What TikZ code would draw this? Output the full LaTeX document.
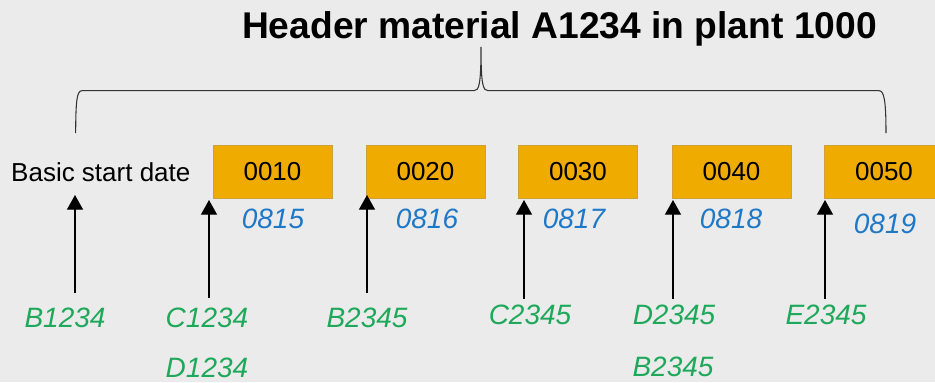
\documentclass[tikz,border=0pt]{standalone}
\usepackage{fontspec}
\setmainfont{Liberation Sans}
\usetikzlibrary{arrows.meta}
\definecolor{bggray}{RGB}{235,235,235}
\definecolor{opgold}{RGB}{240,171,0}
\definecolor{opedge}{RGB}{205,160,60}
\definecolor{datblue}{RGB}{30,120,200}
\definecolor{compgreen}{RGB}{30,168,90}
\begin{document}
\begin{tikzpicture}[x=0.75pt, y=-0.75pt, >={Triangle[width=12pt,length=11pt]},
  op/.style={draw=opedge, line width=0.5pt, fill=opgold, minimum width=89.25pt, minimum height=39.75pt, inner sep=0pt, font=\fontsize{19.5}{22}\selectfont},
  dat/.style={text=datblue, font=\fontsize{21}{24}\selectfont\itshape},
  comp/.style={text=compgreen, font=\fontsize{21}{24}\selectfont\itshape}]
\fill[bggray] (0,0) rectangle (935,382);
\useasboundingbox (0,0) rectangle (935,382);

\node[anchor=base, font=\fontsize{27.9}{32}\selectfont\bfseries] (head) at (559.5,38) {Header material A1234 in plant 1000};
\node[font=\fontsize{19.5}{22}\selectfont] (start) at (100.8,172) {Basic start date};

\node[op] (op10) at (272.5,171.5) {0010};
\node[op] (op20) at (425.5,171.5) {0020};
\node[op] (op30) at (578,171.5) {0030};
\node[op] (op40) at (731.5,171.5) {0040};
\node[op] (op50) at (884,171.5) {0050};

\node[dat] (d10) at (273,219) {0815};
\node[dat] (d20) at (427,219) {0816};
\node[dat] (d30) at (574,219) {0817};
\node[dat] (d40) at (731,219) {0818};
\node[dat] (d50) at (885,224) {0819};

\node[comp] (cB1) at (65,318) {B1234};
\node[comp] (cC1) at (207,318) {C1234};
\node[comp] (cD1) at (207,368) {D1234};
\node[comp] (cB2) at (367,318) {B2345};
\node[comp] (cC2) at (530,315) {C2345};
\node[comp] (cD2) at (674,315) {D2345};
\node[comp] (cB3) at (673,367) {B2345};
\node[comp] (cE2) at (826,315) {E2345};

% brace over the whole routing
\coordinate (brL) at (75.7,133);
\coordinate (brTip) at (481,47);
\coordinate (brR) at (886,133);
\draw[line width=0.8pt, black!80] (brL) .. controls (75.7,100) and (77,90.7) .. (82,90.7) -- (474,90.7)
  .. controls (479,90.7) and (481,85) .. (brTip) .. controls (481,85) and (483,90.7) .. (488,90.7)
  -- (879,90.7) .. controls (884,90.7) and (886,100) .. (brR);

% arrows from the components
\coordinate (s1) at (75,293);  \coordinate (e1) at (75,195);
\coordinate (s2) at (209,298); \coordinate (e2) at (209,200);
\coordinate (s3) at (367,293); \coordinate (e3) at (367,195);
\coordinate (s4) at (524,299); \coordinate (e4) at (524,200);
\coordinate (s5) at (673,299); \coordinate (e5) at (673,200);
\coordinate (s6) at (825,299); \coordinate (e6) at (825,200);
\draw[->, line width=1pt] (s1) -- (e1);
\draw[->, line width=1pt] (s2) -- (e2);
\draw[->, line width=1pt] (s3) -- (e3);
\draw[->, line width=1pt] (s4) -- (e4);
\draw[->, line width=1pt] (s5) -- (e5);
\draw[->, line width=1pt] (s6) -- (e6);
\end{tikzpicture}
\end{document}
